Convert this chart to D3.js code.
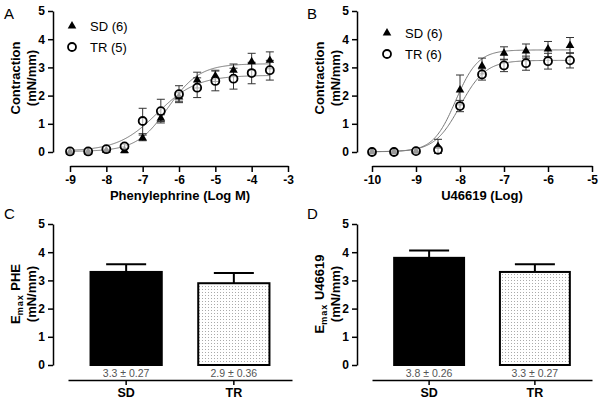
<!DOCTYPE html>
<html><head><meta charset="utf-8">
<script src="https://cdn.jsdelivr.net/npm/d3@7"></script>
<style>body{margin:0;background:#fff}svg{display:block;font-family:"Liberation Sans",Arial,sans-serif}</style>
</head><body>
<script>
// ---- Data ----
const pheDoses = [-9,-8.5,-8,-7.5,-7,-6.5,-6,-5.5,-5,-4.5,-4,-3.5];
const pheSD    = [0.0,0.0,0.05,0.05,0.5,1.2,1.95,2.55,2.7,2.9,3.2,3.25];
const pheSDerr = [0.03,0.03,0.05,0.08,0.1,0.12,0.15,0.28,0.2,0.22,0.3,0.3];
const pheTR    = [0.02,0.02,0.1,0.2,1.1,1.45,2.05,2.28,2.52,2.6,2.8,2.9];
const pheTRerr = [0.03,0.03,0.05,0.08,0.45,0.42,0.3,0.35,0.35,0.37,0.38,0.35];
const pheFitSD = {bottom:0.02, top:3.13, logEC50:-6.3, hill:1.0};
const pheFitTR = {bottom:0.03, top:2.72, logEC50:-6.6, hill:0.8};

const uDoses = [-10,-9.5,-9,-8.5,-8,-7.5,-7,-6.5,-6,-5.5];
const uSD    = [0,0,0.03,0.2,2.2,3.05,3.5,3.58,3.65,3.78];
const uSDerr = [0.02,0.02,0.03,0.25,0.53,0.28,0.23,0.25,0.27,0.28];
const uTR    = [0,0,0.03,0.08,1.63,2.75,3.07,3.15,3.22,3.25];
const uTRerr = [0.02,0.02,0.03,0.05,0.2,0.2,0.22,0.25,0.28,0.27];
const uFitSD = {bottom:0.01, top:3.62, logEC50:-8.1, hill:1.7};
const uFitTR = {bottom:0.01, top:3.25, logEC50:-8.0, hill:1.5};

const groups = ["SD","TR"];
const emaxPHE = [3.3, 2.9];
const emaxPHEerr = [0.27, 0.36];
const emaxU = [3.8, 3.3];
const emaxUerr = [0.26, 0.27];

const yTicks = [0,1,2,3,4,5];
const pheTicks = [-9,-8,-7,-6,-5,-4,-3];
const uTicks = [-10,-9,-8,-7,-6,-5];

// ---- Drawing ----
const svg = d3.select("body").append("svg").attr("width",600).attr("height",403);
const defs = svg.append("defs");
const pat = defs.append("pattern").attr("id","dots").attr("patternUnits","userSpaceOnUse")
  .attr("width",3).attr("height",3);
pat.append("rect").attr("width",3).attr("height",3).attr("fill","#fff");
pat.append("rect").attr("x",1).attr("y",1).attr("width",1).attr("height",1).attr("fill","#aaa");

function panelLabel(t,x,y){
  svg.append("text").attr("x",x).attr("y",y).attr("font-size",15).text(t);
}

function yAxis(g, y, axX){
  const ax = g.append("g").attr("transform",`translate(${axX},0)`)
    .call(d3.axisLeft(y).tickValues(yTicks).tickSize(5).tickSizeOuter(0).tickPadding(3).tickFormat(d3.format("d")));
  ax.select(".domain").attr("stroke-width",1.5);
  ax.selectAll(".tick line").attr("stroke-width",1.5);
  ax.selectAll("text").attr("font-size",12).attr("font-weight","bold").attr("fill","#000");
}

function yTitle(g, cx1, cx2, cy, line1, line2){
  const t1 = g.append("text").attr("transform",`translate(${cx1},${cy}) rotate(-90)`)
    .attr("text-anchor","middle").attr("dy","0.35em").attr("font-size",13).attr("font-weight","bold");
  if (Array.isArray(line1)) {
    t1.append("tspan").text(line1[0]);
    t1.append("tspan").attr("font-size",9).attr("dy",3).attr("letter-spacing",1).text(line1[1]);
    t1.append("tspan").attr("dy",-3).text(line1[2]);
  } else t1.text(line1);
  g.append("text").attr("transform",`translate(${cx2},${cy}) rotate(-90)`)
    .attr("text-anchor","middle").attr("dy","0.35em").attr("font-size",13).attr("font-weight","bold").text(line2);
}

function curvePanel(opt){
  const g = svg.append("g");
  const x = d3.scaleLinear().domain(opt.xdom).range(opt.xr);
  const y = d3.scaleLinear().domain([0,5]).range([152,11]);
  yAxis(g, y, opt.axX);
  const xa = g.append("g").attr("transform","translate(0,166)")
    .call(d3.axisBottom(x).tickValues(opt.ticks).tickSize(6).tickSizeOuter(0).tickPadding(3).tickFormat(d3.format("d")));
  xa.select(".domain").attr("stroke-width",1.5);
  xa.selectAll(".tick line").attr("stroke-width",1.5);
  xa.selectAll("text").attr("font-size",12).attr("font-weight","bold").attr("fill","#000").text(d=>d<0?"-"+Math.abs(d):d);
  g.append("text").attr("x",opt.titleX).attr("y",200).attr("text-anchor","middle")
    .attr("font-size",13).attr("font-weight","bold").text(opt.title);
  yTitle(g, opt.axX-38, opt.axX-22, 78, "Contraction", "(mN/mm)");

  // fitted curves
  const f = p => v => p.bottom + (p.top-p.bottom)/(1+Math.pow(10,(p.logEC50-v)*p.hill));
  const xs = d3.range(opt.curveX[0], opt.curveX[1]+0.001, 0.02);
  [opt.fitSD, opt.fitTR].forEach(p=>{
    const fn = f(p);
    g.append("path").attr("d", d3.line().x(v=>x(v)).y(v=>y(fn(v)))(xs))
      .attr("fill","none").attr("stroke","#777").attr("stroke-width",1);
  });

  // error bars
  const drawErr = (vals, errs) => {
    opt.doses.forEach((d,i)=>{
      const e = errs[i]; if (e < 0.06) return;
      const cx = x(d), y1 = y(vals[i]+e), y2 = y(vals[i]-e);
      g.append("line").attr("x1",cx).attr("x2",cx).attr("y1",y1).attr("y2",y2).attr("stroke","#333").attr("stroke-width",1);
      [y1,y2].forEach(yy=>g.append("line").attr("x1",cx-4).attr("x2",cx+4).attr("y1",yy).attr("y2",yy).attr("stroke","#333").attr("stroke-width",1));
    });
  };
  drawErr(opt.sd, opt.sdErr);
  drawErr(opt.tr, opt.trErr);

  const tri = d3.symbol().type(d3.symbolTriangle).size(32);
  opt.doses.forEach((d,i)=>{
    g.append("path").attr("d",tri()).attr("transform",`translate(${x(d)},${y(opt.sd[i])})`).attr("fill","#000");
  });
  opt.doses.forEach((d,i)=>{
    g.append("circle").attr("cx",x(d)).attr("cy",y(opt.tr[i])).attr("r",4)
      .attr("fill","#fff").attr("fill-opacity",0.6).attr("stroke","#000").attr("stroke-width",1.8);
  });

  // legend
  g.append("path").attr("d",tri()).attr("transform",`translate(${opt.legX},${opt.legY})`).attr("fill","#000");
  g.append("text").attr("x",opt.legX+18).attr("y",opt.legY+4.5).attr("font-size",13).text(opt.legSD);
  g.append("circle").attr("cx",opt.legX).attr("cy",opt.legY+21).attr("r",4).attr("fill","#fff")
    .attr("stroke","#000").attr("stroke-width",1.8);
  g.append("text").attr("x",opt.legX+18).attr("y",opt.legY+25.5).attr("font-size",13).text(opt.legTR);
}

function barPanel(opt){
  const g = svg.append("g");
  const y = d3.scaleLinear().domain([0,5]).range([365,224]);
  yAxis(g, y, opt.axX);
  yTitle(g, opt.axX-38, opt.axX-22, 294, opt.ytitle, "(mN/mm)");
  const x = d3.scaleBand().domain(groups).range(opt.xr).paddingInner(0.32).paddingOuter(0.2);
  // bottom axis
  const xa = g.append("g").attr("transform","translate(0,380)")
    .call(d3.axisBottom(x).tickSize(5).tickSizeOuter(0).tickPadding(3));
  xa.select(".domain").attr("stroke-width",1.5);
  xa.selectAll(".tick line").attr("stroke-width",1.5);
  xa.selectAll("text").attr("font-size",12.5).attr("font-weight","bold").attr("fill","#000");

  groups.forEach((k,i)=>{
    const cx = x(k)+x.bandwidth()/2;
    const top = y(opt.vals[i]+opt.errs[i]);
    g.append("line").attr("x1",cx).attr("x2",cx).attr("y1",top).attr("y2",y(opt.vals[i])).attr("stroke","#000").attr("stroke-width",2);
    g.append("line").attr("x1",cx-20).attr("x2",cx+20).attr("y1",top).attr("y2",top).attr("stroke","#000").attr("stroke-width",2);
    g.append("rect").attr("x",x(k)+1).attr("y",y(opt.vals[i])).attr("width",x.bandwidth()-2)
      .attr("height",y(0)-y(opt.vals[i]))
      .attr("fill", i===0 ? "#000" : "url(#dots)").attr("stroke","#000").attr("stroke-width",2);
    g.append("text").attr("x",cx).attr("y",377).attr("text-anchor","middle").attr("font-size",10.5)
      .attr("fill","#555").text(`${opt.vals[i].toFixed(1)} ± ${opt.errs[i].toFixed(2)}`);
  });
}

panelLabel("A",4,19);
panelLabel("B",307,19);
panelLabel("C",4,219);
panelLabel("D",307,219);

curvePanel({doses:pheDoses, sd:pheSD, sdErr:pheSDerr, tr:pheTR, trErr:pheTRerr,
  fitSD:pheFitSD, fitTR:pheFitTR, xdom:[-9,-3], xr:[70,288], axX:53, ticks:pheTicks,
  curveX:[-9,-3.5], title:"Phenylephrine (Log M)", titleX:180, legX:72, legY:26, legSD:"SD (6)", legTR:"TR (5)"});
curvePanel({doses:uDoses, sd:uSD, sdErr:uSDerr, tr:uTR, trErr:uTRerr,
  fitSD:uFitSD, fitTR:uFitTR, xdom:[-10,-5], xr:[372,592], axX:357, ticks:uTicks,
  curveX:[-10,-5.5], title:"U46619 (Log)", titleX:482, legX:387, legY:33, legSD:"SD (6)", legTR:"TR (6)"});

barPanel({vals:emaxPHE, errs:emaxPHEerr, axX:53, xr:[68,292], ytitle:["E","max"," PHE"]});
barPanel({vals:emaxU, errs:emaxUerr, axX:357, xr:[372,592], ytitle:["E","max"," U46619"]});
</script>
</body></html>
